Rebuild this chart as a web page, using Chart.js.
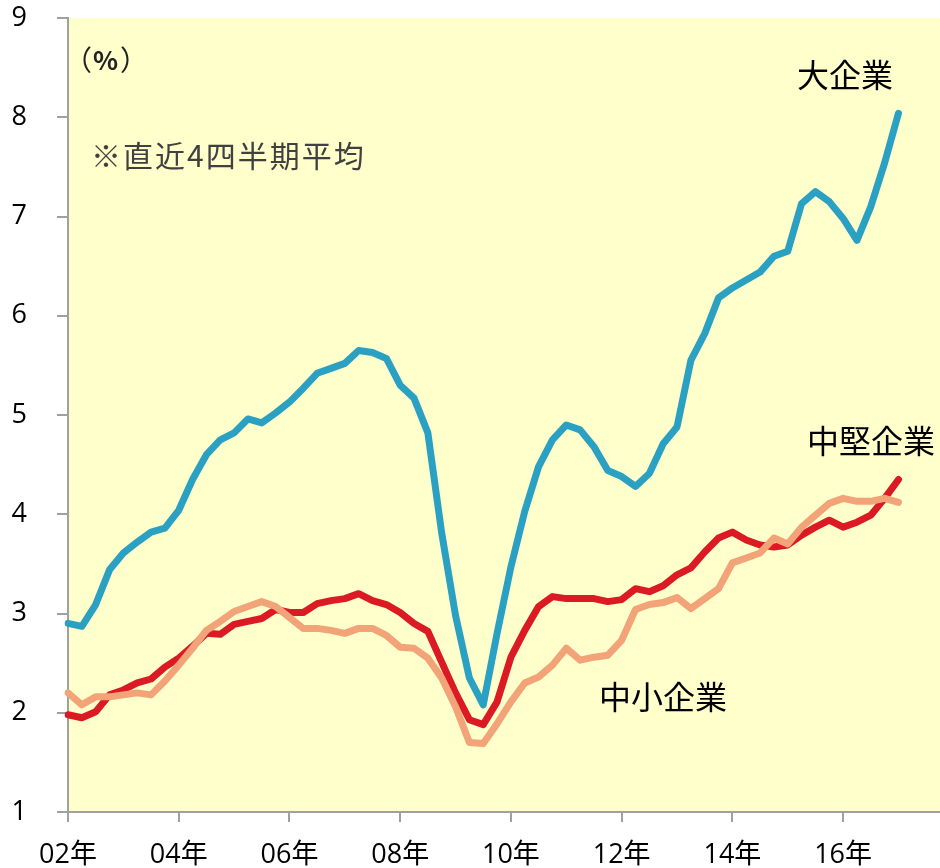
<!DOCTYPE html>
<html>
<head>
<meta charset="utf-8">
<script src="https://cdn.jsdelivr.net/npm/chart.js@4.4.1/dist/chart.umd.min.js"></script>
<style>
  html, body { margin: 0; padding: 0; background: #fff; }
</style>
</head>
<body>
<canvas id="graph-canvas" width="940" height="868"></canvas>
<script>
const years = ['02','03','04','05','06','07','08','09','10','11','12','13','14','15','16','17']
const quarters = years.flatMap(y => ['Q1','Q2','Q3','Q4'].map(q => y + q))

// 大企業
const largeFirms = [2.90, 2.87, 3.09, 3.44, 3.61, 3.72, 3.82, 3.86, 4.04, 4.35, 4.60, 4.75, 4.82, 4.96, 4.92, 5.02,
    5.13, 5.27, 5.42, 5.47, 5.52, 5.65, 5.63, 5.57, 5.30, 5.17, 4.82, 3.81, 2.98, 2.35, 2.08, 2.80,
    3.47, 4.03, 4.48, 4.75, 4.90, 4.85, 4.68, 4.44, 4.38, 4.28, 4.41, 4.71, 4.88, 5.55, 5.82, 6.18,
    6.28, 6.36, 6.44, 6.60, 6.65, 7.13, 7.25, 7.15, 6.98, 6.76, 7.10, 7.54, 8.04]
// 中堅企業
const midFirms = [1.98, 1.95, 2.01, 2.18, 2.23, 2.30, 2.34, 2.46, 2.55, 2.67, 2.80, 2.79, 2.89, 2.92, 2.95, 3.04,
    3.01, 3.01, 3.10, 3.13, 3.15, 3.20, 3.13, 3.09, 3.01, 2.90, 2.82, 2.51, 2.20, 1.93, 1.88, 2.11,
    2.56, 2.83, 3.07, 3.17, 3.15, 3.15, 3.15, 3.12, 3.14, 3.25, 3.22, 3.28, 3.39, 3.46, 3.62, 3.76,
    3.82, 3.74, 3.69, 3.67, 3.69, 3.79, 3.87, 3.94, 3.87, 3.92, 3.99, 4.16, 4.35]
// 中小企業
const smallFirms = [2.20, 2.08, 2.16, 2.16, 2.18, 2.20, 2.18, 2.32, 2.48, 2.65, 2.83, 2.92, 3.02, 3.07, 3.12, 3.07,
    2.96, 2.85, 2.85, 2.83, 2.80, 2.85, 2.85, 2.78, 2.66, 2.65, 2.55, 2.35, 2.06, 1.70, 1.69, 1.89,
    2.11, 2.30, 2.36, 2.48, 2.65, 2.53, 2.56, 2.58, 2.73, 3.04, 3.09, 3.11, 3.16, 3.05, 3.15, 3.25,
    3.51, 3.56, 3.61, 3.76, 3.70, 3.87, 3.99, 4.11, 4.16, 4.13, 4.13, 4.16, 4.12]

const yMin = 1
const yMax = 9

const tickFont = { family: "'Open Sans', 'Noto Sans CJK JP', sans-serif", size: 27 }
const axisGrey = '#a0a0a0'

plotBackground = {
    id: 'plotBackground',
    beforeDraw: (chart) => {
        const { ctx, chartArea } = chart
        ctx.save()
        ctx.fillStyle = '#ffffcc'
        ctx.fillRect(chartArea.left, chartArea.top, chartArea.right - chartArea.left, chartArea.bottom - chartArea.top)
        ctx.restore()
    }
}

textNotes = {
    id: 'textNotes',
    afterDatasetsDraw: (chart) => {
        const ctx = chart.ctx
        const jp = "'Noto Sans CJK JP', sans-serif"
        ctx.save()
        ctx.textBaseline = 'middle'
        ctx.textAlign = 'left'
        ctx.fillStyle = '#222'
        ctx.font = '28px ' + jp
        ctx.fillText('（', 64, 60)
        ctx.font = 'bold 26px ' + jp
        ctx.fillText('%', 93, 60)
        ctx.font = '28px ' + jp
        ctx.fillText('）', 120, 60)
        ctx.fillStyle = '#404040'
        ctx.font = '30px ' + jp
        ctx.letterSpacing = '2px'
        ctx.fillText('※直近4四半期平均', 91, 156)
        ctx.letterSpacing = '0px'
        ctx.fillStyle = '#000'
        ctx.textAlign = 'center'
        ctx.font = '32px ' + jp
        ctx.fillText('大企業', 845, 75)
        ctx.fillText('中堅企業', 871, 441)
        ctx.fillText('中小企業', 663, 697)
        ctx.restore()
    }
}

lineSet = (label, data, color, order) => ({
    label: label,
    data: data,
    borderColor: color,
    borderWidth: 7,
    pointRadius: 0,
    tension: 0,
    fill: false,
    borderCapStyle: 'round',
    borderJoinStyle: 'round',
    order: order
})

createChart = () => {
    new Chart(document.getElementById('graph-canvas'), {
        type: 'line',
        data: {
            labels: quarters,
            datasets: [
                lineSet('大企業', largeFirms, '#2aa1c2', 0),
                lineSet('中小企業', smallFirms, '#f2a378', 1),
                lineSet('中堅企業', midFirms, '#dc1a24', 2)
            ]
        },
        options: {
            responsive: false,
            animation: false,
            devicePixelRatio: 1,
            layout: { padding: { top: 18, right: 0, left: 0, bottom: 0 } },
            plugins: { legend: { display: false }, tooltip: { enabled: false } },
            scales: {
                x: {
                    type: 'category',
                    offset: false,
                    afterFit: (s) => { s.height = 56; s.paddingLeft = 0; s.paddingRight = 0 },
                    border: { color: axisGrey, width: 2 },
                    grid: {
                        drawOnChartArea: false,
                        drawTicks: true,
                        tickLength: 10,
                        lineWidth: 2,
                        color: (c) => c.index % 8 == 0 ? axisGrey : 'rgba(0,0,0,0)'
                    },
                    ticks: {
                        autoSkip: false,
                        maxRotation: 0,
                        padding: 17,
                        color: '#000',
                        font: tickFont,
                        callback: (val, i) => i % 8 == 0 ? years[i / 4] + '年' : ''
                    }
                },
                y: {
                    min: yMin,
                    max: yMax,
                    afterFit: (s) => { s.width = 68; s.paddingTop = 0; s.paddingBottom = 0 },
                    border: { color: axisGrey, width: 2 },
                    grid: { drawOnChartArea: false, drawTicks: true, tickLength: 11, lineWidth: 2, color: axisGrey },
                    ticks: { stepSize: 1, padding: 30, color: '#000', font: tickFont }
                }
            }
        },
        plugins: [plotBackground, textNotes]
    })
}

createChart()
</script>
</body>
</html>
